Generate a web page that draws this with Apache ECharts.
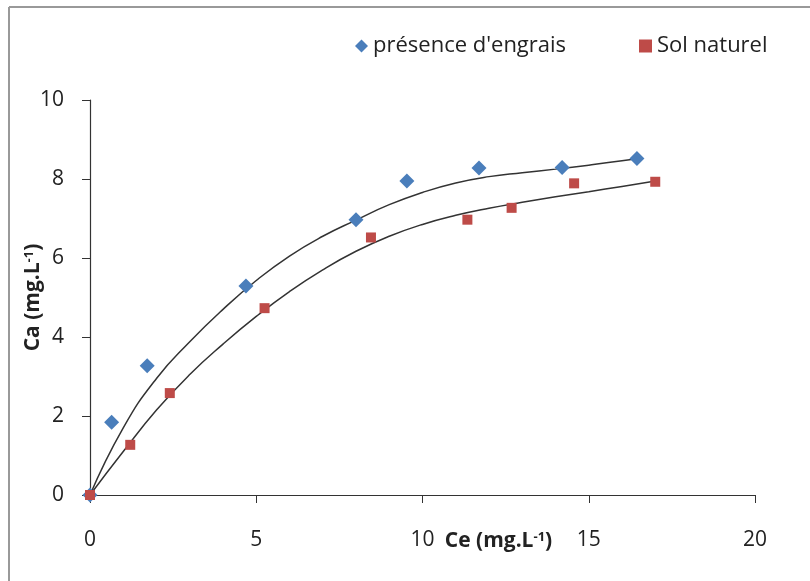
<!DOCTYPE html>
<html>
<head>
<meta charset="utf-8">
<script src="https://cdn.jsdelivr.net/npm/echarts@6/dist/echarts.min.js"></script>
<style>
  html, body { margin: 0; padding: 0; background: #fff; }
  #chart { width: 810px; height: 581px; }
</style>
</head>
<body>
<div id="chart"></div>
<script>
// points
const engraisCe = [0, 0.65, 1.72, 4.69, 8.0, 9.53, 11.7, 14.2, 16.45]
const engraisCa = [0, 1.84, 3.27, 5.29, 6.97, 7.95, 8.28, 8.29, 8.52]
const solCe = [0, 1.21, 2.4, 5.25, 8.45, 11.35, 12.68, 14.56, 17.0]
const solCa = [0, 1.27, 2.58, 4.73, 6.52, 6.97, 7.27, 7.89, 7.93]

// trend curves
const engraisFitCe = [0, 1, 2, 3, 4, 5, 6, 7, 8, 9, 10, 11, 12, 13, 14, 15, 16, 16.45]
const engraisFitCa = [0, 1.7, 2.95, 3.88, 4.7, 5.43, 6.05, 6.55, 6.96, 7.35, 7.66, 7.9, 8.06, 8.16, 8.25, 8.35, 8.46, 8.52]
const solFitCe = [0, 1, 2, 3, 4, 5, 6, 7, 8, 9, 10, 11, 12, 13, 14, 15, 16, 17.1]
const solFitCa = [0, 1.1, 2.15, 3.05, 3.82, 4.52, 5.15, 5.7, 6.17, 6.55, 6.85, 7.08, 7.26, 7.41, 7.55, 7.68, 7.81, 7.96]

const xTicks = [0, 5, 10, 15, 20]
const yTicks = [0, 2, 4, 6, 8, 10]

const zip = (a, b) => a.map((v, i) => [v, b[i]])

const font = 'Open Sans'
const ink = '#222'
const chart = echarts.init(document.getElementById('chart'))

const nameRich = {
  b: { fontSize: 21, fontWeight: 'bold', color: ink, fontFamily: font },
  s: { fontSize: 13, fontWeight: 'bold', color: ink, fontFamily: font, verticalAlign: 'top', lineHeight: 14 }
}

const legendBase = {
  top: 30,
  itemWidth: 13,
  itemHeight: 13,
  itemGap: 0,
  textStyle: { fontSize: 22, color: ink, fontFamily: font }
}

chart.setOption({
  animation: false,
  textStyle: { fontFamily: font },
  grid: { left: 90, right: 55, top: 100, bottom: 86 },
  legend: [
    Object.assign({ data: ["présence d'engrais"], left: 350 }, legendBase),
    Object.assign({ data: ['Sol naturel'], left: 634 }, legendBase)
  ],
  graphic: [
    { type: 'line', shape: { x1: 9, y1: 7, x2: 810, y2: 7 }, style: { stroke: '#999', lineWidth: 2 } },
    { type: 'line', shape: { x1: 9, y1: 7, x2: 9, y2: 581 }, style: { stroke: '#999', lineWidth: 2 } }
  ],
  xAxis: {
    type: 'value',
    min: xTicks[0],
    max: xTicks[xTicks.length - 1],
    interval: 5,
    name: '{b|Ce (mg.L}{s|-1}{b|)}',
    nameLocation: 'middle',
    nameMoveOverlap: false,
    nameGap: 36,
    nameTextStyle: { padding: [0, 0, 0, 152], rich: nameRich },
    splitLine: { show: false },
    axisLine: { onZero: false, lineStyle: { color: '#333', width: 1.2 } },
    axisTick: { show: true, inside: false, length: 8, lineStyle: { color: '#333' } },
    axisLabel: { fontSize: 21, color: ink, margin: 35 }
  },
  yAxis: {
    type: 'value',
    min: yTicks[0],
    max: yTicks[yTicks.length - 1],
    interval: 2,
    name: '{b|Ca (mg.L}{s|-1}{b|)}',
    nameLocation: 'middle',
    nameMoveOverlap: false,
    nameGap: 46,
    nameTextStyle: { rich: nameRich },
    splitLine: { show: false },
    axisLine: { show: true, lineStyle: { color: '#333', width: 1.2 } },
    axisTick: { show: true, inside: false, length: 8, lineStyle: { color: '#333' } },
    axisLabel: { fontSize: 21, color: ink, margin: 26 }
  },
  series: [
    {
      name: 'fit engrais',
      type: 'line',
      data: zip(engraisFitCe, engraisFitCa),
      smooth: true,
      showSymbol: false,
      lineStyle: { color: '#333', width: 1.5 },
      silent: true,
      z: 1
    },
    {
      name: 'fit sol',
      type: 'line',
      data: zip(solFitCe, solFitCa),
      smooth: true,
      showSymbol: false,
      lineStyle: { color: '#333', width: 1.5 },
      silent: true,
      z: 1
    },
    {
      name: "présence d'engrais",
      type: 'scatter',
      symbol: 'diamond',
      symbolSize: 15,
      itemStyle: { color: '#4a7ebb', opacity: 1 },
      data: zip(engraisCe, engraisCa),
      z: 3
    },
    {
      name: 'Sol naturel',
      type: 'scatter',
      symbol: 'rect',
      symbolSize: 10,
      itemStyle: { color: '#be4b48', opacity: 1 },
      data: zip(solCe, solCa),
      z: 4
    }
  ]
})
</script>
</body>
</html>
